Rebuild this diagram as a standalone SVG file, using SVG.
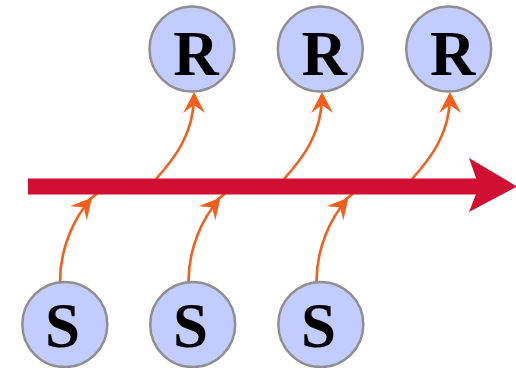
<svg xmlns="http://www.w3.org/2000/svg" width="516" height="368" viewBox="0 0 516 368">
<style>
.node circle{fill:#C3CCFF;stroke:#8F8F8F;stroke-width:2.5}
.lbl{font-family:'Liberation Serif','DejaVu Serif',serif;font-weight:700;font-size:63px;fill:#000;text-anchor:middle}
.conn{fill:none;stroke:#F25F1C;stroke-width:2.6}
</style>
<defs>
<marker id="ah" markerUnits="userSpaceOnUse" markerWidth="30" markerHeight="30" refX="17" refY="0" orient="auto" overflow="visible">
<path d="M21,0 L0,-11 L8,0 L0,11 Z" fill="#F25F1C"/>
</marker>
</defs>
<g id="connectors">
<path class="conn" d="M60,282 c0,-35 14.5,-64 29.5,-81.5" marker-end="url(#ah)"/>
<line class="conn" x1="89" y1="200" x2="99" y2="192"/>
<path class="conn" d="M188.5,282 c0,-35 14.5,-64 29.5,-81.5" marker-end="url(#ah)"/>
<line class="conn" x1="217" y1="200" x2="227" y2="192"/>
<path class="conn" d="M316.5,282 c0,-35 14.5,-64 29.5,-81.5" marker-end="url(#ah)"/>
<line class="conn" x1="345" y1="200" x2="355" y2="192"/>
<path class="conn" d="M156,179 c18,-20 38,-45 38,-83" marker-end="url(#ah)"/>
<path class="conn" d="M284,179 c18,-20 38,-45 38,-83" marker-end="url(#ah)"/>
<path class="conn" d="M412,179 c18,-20 38,-45 38,-83" marker-end="url(#ah)"/>
</g>
<g id="axis">
<rect x="28" y="178.5" width="452" height="16" fill="#D10F32"/>
<path d="M517,186.5 L469,158 L479,186.5 L469,212 Z" fill="#D10F32"/>
</g>
<g id="R1" class="node"><circle cx="192" cy="49" r="42.5"/><text class="lbl" x="196" y="75">R</text></g>
<g id="R2" class="node"><circle cx="320.3" cy="49" r="42.5"/><text class="lbl" x="324.3" y="75">R</text></g>
<g id="R3" class="node"><circle cx="448.7" cy="49" r="42.5"/><text class="lbl" x="452.7" y="75">R</text></g>
<g id="S1" class="node"><circle cx="64.8" cy="324.5" r="42.5"/><text class="lbl" x="62.5" y="347">S</text></g>
<g id="S2" class="node"><circle cx="192.7" cy="324.5" r="42.5"/><text class="lbl" x="190.4" y="347">S</text></g>
<g id="S3" class="node"><circle cx="320.8" cy="324.5" r="42.5"/><text class="lbl" x="318.5" y="347">S</text></g>
</svg>
